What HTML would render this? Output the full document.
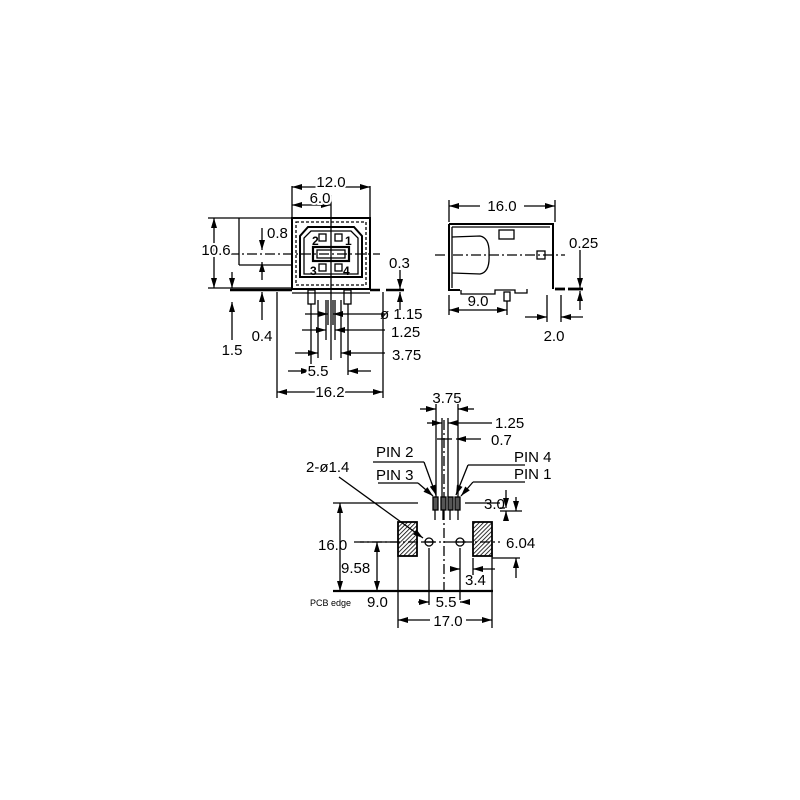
<!DOCTYPE html>
<html><head><meta charset="utf-8"><style>
html,body{margin:0;padding:0;background:#fff}
svg{display:block}
text{font-family:"Liberation Sans",Arial,sans-serif;fill:#000}
</style></head><body>
<svg width="800" height="800" viewBox="0 0 800 800" xmlns="http://www.w3.org/2000/svg">
<defs>
<marker id="a" viewBox="0 0 10 6" refX="10" refY="3" markerWidth="11" markerHeight="6" orient="auto-start-reverse" markerUnits="userSpaceOnUse"><path d="M0,0L10,3L0,6z" fill="#000"/></marker>
<pattern id="h" width="3" height="3" patternUnits="userSpaceOnUse" patternTransform="rotate(45)"><rect width="3" height="3" fill="#fff"/><line x1="0" y1="0" x2="0" y2="3" stroke="#000" stroke-width="1.6"/></pattern>
</defs>
<g stroke="#000" stroke-width="1.3" fill="none">
<!-- FRONT VIEW -->
<rect x="292" y="218" width="78" height="71" stroke-width="2"/>
<rect x="296" y="222" width="70" height="63" stroke-dasharray="3,2"/>
<path d="M308,227 L354,227 L362,236 L362,277 L300,277 L300,236 Z" stroke-width="2"/>
<path d="M311,231 L351,231 L358,238 L358,274 L304,274 L304,238 Z"/>
<rect x="313" y="247" width="36" height="14" stroke-width="2.2"/>
<rect x="317" y="250" width="28" height="8"/>
<rect x="319" y="234" width="7" height="7"/><rect x="335" y="234" width="7" height="7"/>
<rect x="319" y="264" width="7" height="7"/><rect x="335" y="264" width="7" height="7"/>
<line x1="230" y1="290" x2="292" y2="290" stroke-width="2.5"/>
<line x1="370" y1="290" x2="380" y2="290" stroke-width="2.5"/>
<line x1="386" y1="290" x2="404" y2="290" stroke-width="2.5"/>
<line x1="292" y1="293" x2="370" y2="293"/>
<rect x="308" y="290" width="7" height="14"/><rect x="344" y="290" width="7" height="14"/>
<line x1="331" y1="195" x2="331" y2="360"/>
<line x1="229" y1="254" x2="380" y2="254" stroke-dasharray="10,3,2,3"/>
<!-- front dims -->
<line x1="292" y1="186" x2="292" y2="218"/><line x1="370" y1="186" x2="370" y2="218"/>
<line x1="292" y1="187" x2="370" y2="187" marker-start="url(#a)" marker-end="url(#a)"/>
<line x1="292" y1="205" x2="331" y2="205" marker-start="url(#a)" marker-end="url(#a)"/>
<line x1="208" y1="218" x2="292" y2="218"/><line x1="208" y1="288" x2="292" y2="288"/>
<line x1="214" y1="218" x2="214" y2="288" marker-start="url(#a)" marker-end="url(#a)"/>
<line x1="239" y1="218" x2="239" y2="265"/><line x1="239" y1="265" x2="292" y2="265"/>
<line x1="262" y1="228" x2="262" y2="250" marker-end="url(#a)"/>
<line x1="262" y1="280" x2="262" y2="262" marker-end="url(#a)"/>
<line x1="262" y1="320" x2="262" y2="292" marker-end="url(#a)"/>
<line x1="232" y1="340" x2="232" y2="302" marker-end="url(#a)"/>
<line x1="232" y1="272" x2="232" y2="288" marker-end="url(#a)"/>
<line x1="400" y1="270" x2="400" y2="289" marker-end="url(#a)"/>
<line x1="400" y1="310" x2="400" y2="292" marker-end="url(#a)"/>
<line x1="277" y1="292" x2="277" y2="398"/><line x1="383" y1="292" x2="383" y2="398"/>
<line x1="277" y1="392" x2="316" y2="392" marker-start="url(#a)"/>
<line x1="345" y1="392" x2="383" y2="392" marker-end="url(#a)"/>
<line x1="311" y1="304" x2="311" y2="375"/><line x1="348" y1="304" x2="348" y2="375"/>
<line x1="288" y1="371" x2="311" y2="371" marker-end="url(#a)"/>
<line x1="371" y1="371" x2="348" y2="371" marker-end="url(#a)"/>
<line x1="318" y1="300" x2="318" y2="358"/><line x1="341" y1="300" x2="341" y2="358"/>
<line x1="295" y1="353" x2="318" y2="353" marker-end="url(#a)"/>
<line x1="385" y1="353" x2="341" y2="353" marker-end="url(#a)"/>
<line x1="326" y1="300" x2="326" y2="340"/><line x1="335" y1="300" x2="335" y2="340"/>
<line x1="302" y1="330" x2="326" y2="330" marker-end="url(#a)"/>
<line x1="385" y1="330" x2="335" y2="330" marker-end="url(#a)"/>
<line x1="328" y1="300" x2="328" y2="325"/><line x1="333" y1="300" x2="333" y2="325"/>
<line x1="305" y1="314" x2="328" y2="314" marker-end="url(#a)"/>
<line x1="385" y1="314" x2="333" y2="314" marker-end="url(#a)"/>
<!-- SIDE VIEW -->
<path d="M449,224 L553,224 L553,289 M449,224 L449,290 L460,290" stroke-width="2"/>
<line x1="452" y1="227" x2="550" y2="227"/>
<line x1="452" y1="227" x2="452" y2="288"/>
<path d="M452,237 L480,236 Q490,238 489,255 Q490,272 480,274 L452,273"/>
<rect x="499" y="230" width="15" height="9"/>
<rect x="537" y="251" width="8" height="8"/>
<path d="M461,290 L461,294 L495,294 L495,290 L515,290 L515,293 L527,293 L527,289"/>
<rect x="504" y="292" width="6" height="9"/>
<line x1="555" y1="289" x2="565" y2="289" stroke-width="2.8"/>
<line x1="568" y1="289" x2="583" y2="289" stroke-width="2.8"/>
<line x1="435" y1="255" x2="565" y2="255" stroke-dasharray="10,3,2,3"/>
<line x1="449" y1="200" x2="449" y2="222"/><line x1="555" y1="200" x2="555" y2="222"/>
<line x1="449" y1="206" x2="480" y2="206" marker-start="url(#a)"/>
<line x1="524" y1="206" x2="555" y2="206" marker-end="url(#a)"/>
<line x1="449" y1="295" x2="449" y2="315"/><line x1="507" y1="301" x2="507" y2="315"/>
<line x1="449" y1="310" x2="507" y2="310" marker-start="url(#a)" marker-end="url(#a)"/>
<line x1="547" y1="295" x2="547" y2="322"/><line x1="561" y1="295" x2="561" y2="322"/>
<line x1="525" y1="317" x2="547" y2="317" marker-end="url(#a)"/>
<line x1="583" y1="317" x2="561" y2="317" marker-end="url(#a)"/>
<line x1="580" y1="250" x2="580" y2="288" marker-end="url(#a)"/>
<line x1="580" y1="310" x2="580" y2="291" marker-end="url(#a)"/>
<!-- PCB VIEW -->
<rect x="398" y="522" width="19" height="34" fill="url(#h)" stroke-width="1.8"/>
<rect x="473" y="522" width="19" height="34" fill="url(#h)" stroke-width="1.8"/>
<circle cx="429" cy="542" r="4"/><circle cx="460" cy="542" r="4"/>
<line x1="423" y1="542" x2="435" y2="542"/><line x1="454" y1="542" x2="466" y2="542"/>
<line x1="354" y1="542" x2="500" y2="542" stroke-dasharray="10,3,2,3"/>
<line x1="444" y1="420" x2="444" y2="591" stroke-dasharray="10,3,2,3"/>
<rect x="433" y="497" width="5" height="13" fill="#555"/>
<rect x="441" y="497" width="5" height="13" fill="#555"/>
<rect x="448" y="497" width="5" height="13" fill="#555"/>
<rect x="455" y="497" width="5" height="13" fill="#555"/>
<line x1="435" y1="510" x2="435" y2="520"/><line x1="443" y1="510" x2="443" y2="520"/>
<line x1="450" y1="510" x2="450" y2="520"/><line x1="458" y1="510" x2="458" y2="520"/>
<line x1="333" y1="503" x2="418" y2="503"/><line x1="465" y1="503" x2="500" y2="503"/>
<line x1="333" y1="591" x2="493" y2="591" stroke-width="2.2"/>
<line x1="436" y1="404" x2="436" y2="497"/><line x1="458" y1="404" x2="458" y2="497"/>
<line x1="420" y1="409" x2="436" y2="409" marker-end="url(#a)"/>
<line x1="474" y1="409" x2="458" y2="409" marker-end="url(#a)"/>
<line x1="442" y1="418" x2="442" y2="497"/><line x1="448" y1="418" x2="448" y2="497"/>
<line x1="427" y1="423" x2="442" y2="423" marker-end="url(#a)"/>
<line x1="492" y1="423" x2="448" y2="423" marker-end="url(#a)"/>
<line x1="437" y1="439" x2="452" y2="439"/>
<line x1="481" y1="439" x2="456" y2="439" marker-end="url(#a)"/>
<line x1="373" y1="462" x2="424" y2="462"/><line x1="424" y1="462" x2="436" y2="495" marker-end="url(#a)"/>
<line x1="378" y1="483" x2="418" y2="483"/><line x1="418" y1="483" x2="433" y2="496" marker-end="url(#a)"/>
<line x1="525" y1="465" x2="468" y2="465"/><line x1="468" y1="465" x2="456" y2="495" marker-end="url(#a)"/>
<line x1="525" y1="482" x2="473" y2="482"/><line x1="473" y1="482" x2="461" y2="496" marker-end="url(#a)"/>
<line x1="339" y1="477" x2="423" y2="538" marker-end="url(#a)"/>
<line x1="500" y1="508" x2="505" y2="508"/><line x1="506" y1="490" x2="506" y2="508" marker-end="url(#a)"/>
<line x1="506" y1="520" x2="506" y2="511" marker-end="url(#a)"/>
<line x1="500" y1="511" x2="522" y2="511"/>
<line x1="492" y1="558" x2="520" y2="558"/>
<line x1="516" y1="497" x2="516" y2="511" marker-end="url(#a)"/>
<line x1="516" y1="578" x2="516" y2="558" marker-end="url(#a)"/>
<line x1="340" y1="591" x2="340" y2="503" marker-start="url(#a)" marker-end="url(#a)"/>
<line x1="377" y1="591" x2="377" y2="542" marker-start="url(#a)" marker-end="url(#a)"/>
<line x1="360" y1="542" x2="398" y2="542"/>
<line x1="460" y1="548" x2="460" y2="600"/><line x1="473" y1="558" x2="473" y2="575"/>
<line x1="450" y1="569" x2="460" y2="569" marker-end="url(#a)"/>
<line x1="495" y1="569" x2="473" y2="569" marker-end="url(#a)"/>
<line x1="429" y1="548" x2="429" y2="605"/>
<line x1="418" y1="602" x2="429" y2="602" marker-end="url(#a)"/>
<line x1="470" y1="602" x2="460" y2="602" marker-end="url(#a)"/>
<line x1="398" y1="556" x2="398" y2="628"/><line x1="492" y1="556" x2="492" y2="628"/>
<line x1="398" y1="620" x2="430" y2="620" marker-start="url(#a)"/>
<line x1="466" y1="620" x2="492" y2="620" marker-end="url(#a)"/>
</g>
<g font-size="15">
<text x="331" y="187" text-anchor="middle" style="paint-order:stroke" stroke="#fff" stroke-width="4">12.0</text>
<text x="320" y="203" text-anchor="middle" style="paint-order:stroke" stroke="#fff" stroke-width="4">6.0</text>
<text x="216" y="255" text-anchor="middle" style="paint-order:stroke" stroke="#fff" stroke-width="4">10.6</text>
<text x="267" y="238">0.8</text>
<text x="389" y="268">0.3</text>
<text x="380" y="319">ø 1.15</text>
<text x="391" y="337">1.25</text>
<text x="392" y="360">3.75</text>
<text x="318" y="376" text-anchor="middle" style="paint-order:stroke" stroke="#fff" stroke-width="4">5.5</text>
<text x="330" y="397" text-anchor="middle" style="paint-order:stroke" stroke="#fff" stroke-width="4">16.2</text>
<text x="232" y="355" text-anchor="middle">1.5</text>
<text x="262" y="341" text-anchor="middle">0.4</text>
<text x="502" y="211" text-anchor="middle">16.0</text>
<text x="569" y="248">0.25</text>
<text x="478" y="306" text-anchor="middle">9.0</text>
<text x="554" y="341" text-anchor="middle">2.0</text>
<text x="447" y="403" text-anchor="middle">3.75</text>
<text x="495" y="428">1.25</text>
<text x="491" y="445">0.7</text>
<text x="376" y="457">PIN 2</text>
<text x="514" y="462">PIN 4</text>
<text x="376" y="480">PIN 3</text>
<text x="514" y="479">PIN 1</text>
<text x="306" y="472">2-ø1.4</text>
<text x="484" y="509">3.0</text>
<text x="506" y="548">6.04</text>
<text x="318" y="550">16.0</text>
<text x="341" y="573">9.58</text>
<text x="465" y="585">3.4</text>
<text x="367" y="607">9.0</text>
<text x="446" y="607" text-anchor="middle">5.5</text>
<text x="448" y="626" text-anchor="middle">17.0</text>
<text x="310" y="606" font-size="9">PCB edge</text>
<text x="312" y="245" font-size="12" font-weight="bold">2</text>
<text x="345" y="245" font-size="12" font-weight="bold">1</text>
<text x="310" y="275" font-size="12" font-weight="bold">3</text>
<text x="343" y="275" font-size="12" font-weight="bold">4</text>
</g>
</svg>
</body></html>
